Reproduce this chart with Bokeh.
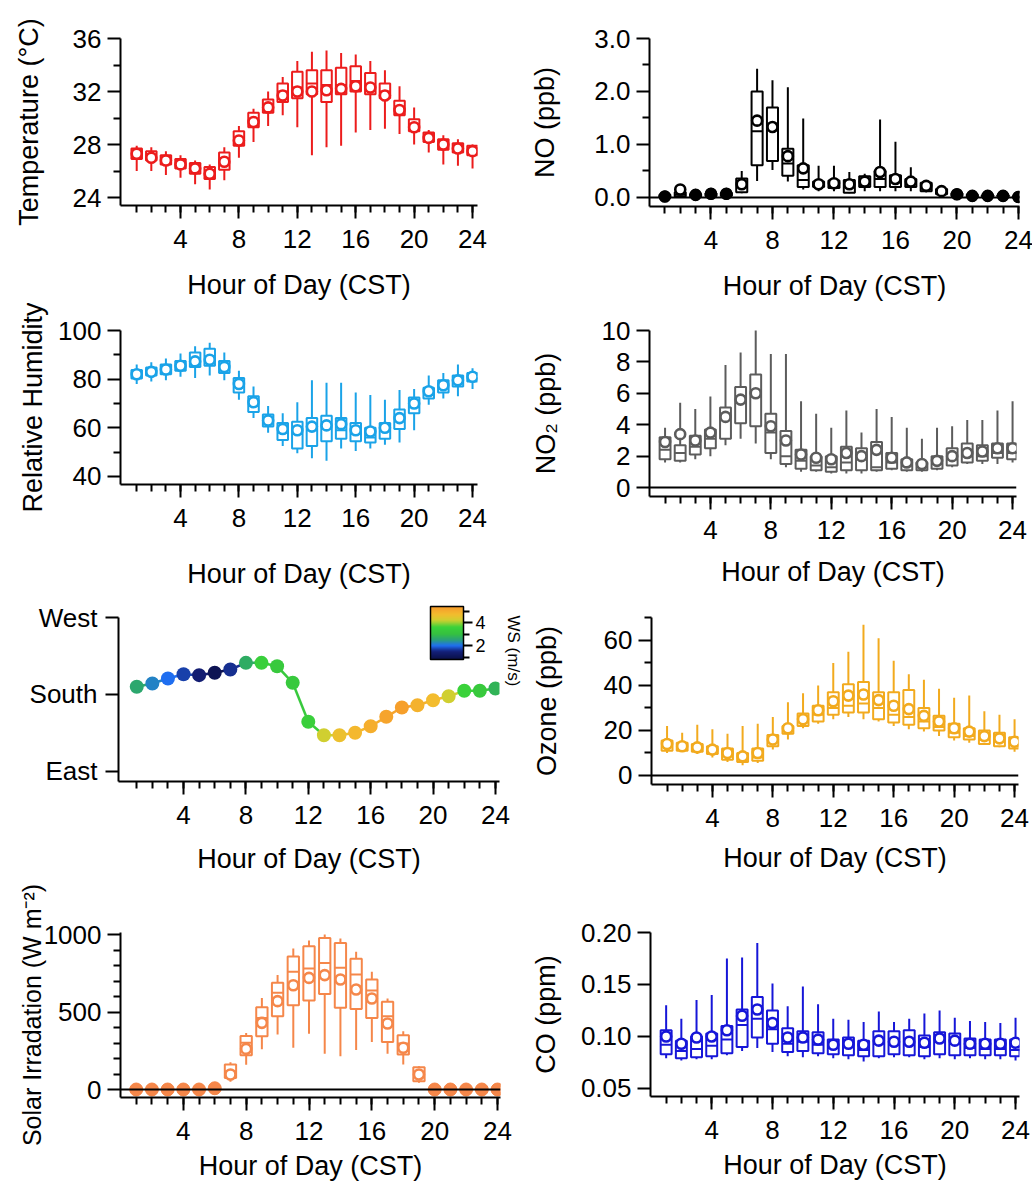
import numpy as np
from bokeh.plotting import figure
from bokeh.models import (FixedTicker, Span, ColumnDataSource, ColorBar, LinearColorMapper,
                          Title, Range1d, NumeralTickFormatter)
from bokeh.layouts import column, row
from bokeh.embed import file_html
from bokeh.resources import INLINE

hours = list(range(1, 25))
x_major = [4, 8, 12, 16, 20, 24]

# Temperature (deg C)
t_low  = [26.0,26.0,25.7,25.5,25.0,24.6,25.3,27.0,28.2,29.4,30.2,29.3,27.2,27.8,27.9,28.9,29.1,29.2,28.8,28.0,27.4,26.5,26.4,26.2]
t_q1   = [26.9,26.8,26.5,26.2,25.8,25.4,26.1,27.9,29.3,30.4,31.2,31.5,31.8,31.2,31.8,32.0,31.8,31.5,30.2,29.0,28.2,27.6,27.4,27.2]
t_med  = [27.2,27.0,26.8,26.5,26.2,25.9,26.6,28.5,29.9,31.0,32.0,32.3,32.6,32.5,32.5,32.8,32.4,32.0,30.8,29.5,28.6,28.0,27.7,27.5]
t_q3   = [27.7,27.5,27.2,26.9,26.6,26.3,27.4,29.0,30.4,31.4,32.6,33.5,33.6,33.6,33.8,33.9,33.4,32.6,31.3,29.9,28.9,28.4,28.1,27.9]
t_high = [27.9,27.8,27.5,27.2,26.8,26.5,27.8,29.4,30.7,32.0,33.1,34.3,35.0,35.1,34.9,34.8,34.3,33.6,32.4,30.8,29.1,28.7,28.4,28.0]
t_mean = [27.3,27.0,26.8,26.5,26.2,25.8,26.7,28.3,29.7,30.8,31.7,32.0,32.0,32.1,32.2,32.4,32.3,31.7,30.6,29.3,28.5,28.0,27.7,27.5]

# NO (ppb)
n_low  = [0.00,0.00,0.00,0.01,0.02,0.08,0.31,0.52,0.30,0.15,0.12,0.12,0.08,0.12,0.12,0.12,0.12,0.10,0.05,0.02,0.01,0.01,0.01,0.00]
n_q1   = [0.00,0.02,0.02,0.03,0.03,0.10,0.61,0.69,0.41,0.20,0.20,0.18,0.09,0.20,0.20,0.20,0.20,0.12,0.06,0.03,0.02,0.02,0.01,0.00]
n_med  = [0.02,0.05,0.04,0.05,0.05,0.20,1.25,1.35,0.64,0.33,0.25,0.25,0.20,0.28,0.35,0.33,0.27,0.20,0.10,0.05,0.03,0.03,0.02,0.01]
n_q3   = [0.05,0.10,0.06,0.08,0.09,0.36,2.00,1.70,0.92,0.61,0.30,0.32,0.33,0.40,0.50,0.42,0.35,0.28,0.16,0.08,0.05,0.04,0.04,0.02]
n_high = [0.08,0.20,0.10,0.12,0.10,0.50,2.43,2.21,2.08,1.49,0.60,0.60,0.48,0.45,1.47,1.05,0.57,0.30,0.20,0.10,0.06,0.05,0.05,0.03]
n_mean = [0.02,0.15,0.05,0.07,0.07,0.25,1.45,1.33,0.78,0.55,0.25,0.27,0.25,0.30,0.48,0.35,0.30,0.22,0.12,0.06,0.03,0.03,0.03,0.01]

# Relative humidity (%)
rh_low  = [78,79,79.5,81,80.5,81.5,79.5,71.5,64,58,52.5,49.5,47.5,46.5,51.5,50.5,51.5,53,54,59,69.5,72,73,76]
rh_q1   = [80.3,81.5,82,83.5,85,85.5,82.5,74.5,66.5,60.5,55,51.5,52.5,54.5,55.5,54.5,54,55.5,59.5,66,72,74.5,77,79]
rh_med  = [82,83,84,85.5,87.5,88.5,85,77.5,69,62.5,58,57.5,59,60,59,57.5,56,59,63,68.5,74,77,79,80.5]
rh_q3   = [83.8,84.8,86,87.5,91,92.5,87.5,80.5,73,65.5,62,62.5,64,65,64,62,60,62,67.5,72.5,76.5,79.5,81.5,82.5]
rh_high = [86,87,88.5,90.5,93.5,95,91,83.5,77,69,66,70.5,79.5,78.5,78.5,74.5,73.5,71.5,75.5,76,81.5,82.5,86,84.5]
rh_mean = [82,83,84,85.5,87.3,88,85,78,70.5,63,59.5,59,60.5,61,61.5,59,58.5,60,64,70,75,77.5,79.5,81]

# NO2 (ppb)
n2_low  = [1.6,1.6,1.8,2.0,2.7,3.1,2.8,1.8,1.3,1.0,1.0,0.9,0.9,0.9,1.0,1.1,1.0,1.0,1.1,1.3,1.5,1.5,1.5,1.6]
n2_q1   = [1.8,1.7,2.1,2.5,3.1,4.1,3.9,2.2,1.5,1.2,1.1,1.0,1.1,1.1,1.1,1.2,1.1,1.1,1.2,1.4,1.6,1.7,1.9,1.8]
n2_med  = [2.4,2.2,2.6,3.1,4.3,5.4,5.8,3.5,2.0,1.7,1.4,1.3,1.6,1.8,1.3,1.6,1.4,1.3,1.5,1.8,2.0,2.0,2.2,2.2]
n2_q3   = [3.2,2.7,3.3,3.7,5.1,6.4,7.2,4.7,3.6,2.4,2.0,2.0,2.6,2.5,2.9,2.2,1.8,1.6,2.0,2.5,2.8,2.7,2.8,2.8]
n2_high = [3.8,5.4,5.0,5.8,7.8,8.6,10.2,8.5,8.5,5.5,4.7,3.8,4.9,3.5,5.0,4.5,3.8,3.1,3.8,3.9,4.3,4.3,4.9,5.5]
n2_mean = [2.9,3.4,3.0,3.5,4.5,5.6,6.0,3.9,3.0,2.1,1.9,1.8,2.2,2.0,2.4,1.9,1.6,1.5,1.7,2.0,2.2,2.3,2.5,2.5]

# Wind direction (deg) and wind speed (m/s)
wd = [189.0,192.9,198.7,203.7,202.6,205.4,209.2,217.0,217.0,213.1,193.7,148.1,
      132.4,132.4,135.2,142.9,153.9,164.8,167.5,173.3,178.0,184.3,184.3,187.0]
ws = [2.6,2.2,2.0,1.7,1.4,1.0,1.6,2.7,3.5,3.3,3.3,3.5,
      4.2,4.6,4.8,5.0,5.2,5.3,4.9,4.7,4.2,3.6,3.3,2.8]
wd_ticks = [90, 180, 270]
wd_names = ["East", "South", "West"]

# Ozone (ppb)
o_low  = [10,10.5,9.5,8,6,4.5,5.5,11.5,16,21,23,25,26,25,24,22,20.5,19.5,17.5,15.5,14.5,13.5,12.5,10.5]
o_q1   = [11,11,10.5,9.5,7,6,6.5,13,18.5,22,24,27,28,28,25,23.5,22.5,21,20,17,16,14,13,12]
o_med  = [13,13,12,11,9.5,8,8,15,20,24,27,30,31,32,30,27,26,24,21.5,19,17.5,16,15.5,14]
o_q3   = [15.5,14.5,14,13,12,10,12,18,22,27.5,31,37,40.5,41.5,37,37,38,30,26.5,23,21,20,19,17]
o_high = [22,19,22.5,20.5,18.5,22,23,26,32.5,36.5,40,50,55,67,61,51,45,42.5,38.5,34.5,35.5,28.5,27,25]
o_mean = [14,13,12.5,11.5,10,8.5,10,16,21,25,29,33,35.5,36,33.5,31,29.5,26.5,24,21,19.5,17.5,16.5,15]

# Solar irradiation (W m-2)
s_low  = [0,0,0,0,0,0,50,160,260,355,270,360,230,215,255,307,230,161,43,0,0,0,0,0]
s_q1   = [0,0,0,0,0,0,75,221,344,473,544,574,617,527,520,462,307,226,54,0,0,0,0,0]
s_med  = [0,0,0,0,0,0,118,301,462,624,759,781,817,785,742,639,473,297,110,0,0,0,0,0]
s_q3   = [0,0,0,0,0,0,161,345,531,688,858,925,978,946,843,710,566,350,144,0,0,0,0,0]
s_high = [0,0,0,0,0,0,176,365,591,738,910,961,1000,974,888,759,587,376,150,0,0,0,0,0]
s_mean = [0,0,0,0,0,8,97,262,430,570,673,720,738,710,645,587,426,269,97,0,0,0,0,0]

# CO (ppm)
c_low  = [0.079,0.077,0.078,0.078,0.082,0.086,0.089,0.085,0.081,0.080,0.081,0.079,0.078,0.076,0.079,0.080,0.080,0.078,0.079,0.078,0.079,0.078,0.078,0.077]
c_q1   = [0.083,0.079,0.080,0.081,0.084,0.090,0.099,0.093,0.085,0.086,0.084,0.083,0.082,0.081,0.081,0.083,0.082,0.081,0.083,0.082,0.082,0.082,0.082,0.081]
c_med  = [0.092,0.086,0.088,0.091,0.097,0.111,0.117,0.107,0.093,0.095,0.092,0.089,0.091,0.087,0.093,0.092,0.093,0.090,0.096,0.093,0.089,0.088,0.088,0.087]
c_q3   = [0.106,0.096,0.100,0.103,0.110,0.126,0.138,0.125,0.108,0.105,0.104,0.097,0.099,0.096,0.105,0.105,0.106,0.101,0.104,0.103,0.098,0.097,0.097,0.097]
c_high = [0.130,0.117,0.135,0.140,0.175,0.176,0.190,0.151,0.129,0.148,0.131,0.117,0.116,0.114,0.124,0.114,0.117,0.122,0.125,0.118,0.115,0.114,0.113,0.118]
c_mean = [0.100,0.093,0.099,0.100,0.106,0.120,0.126,0.113,0.099,0.099,0.097,0.092,0.093,0.092,0.096,0.095,0.095,0.094,0.098,0.096,0.093,0.093,0.093,0.094]

FONT = "Liberation Sans"
TICK_FS = "26px"
TITLE_FS = "27px"


def make_fig(fw, fh, bl, bt, br, bb, xr, yr, x_title_standoff):
    p = figure(frame_width=fw, frame_height=fh, min_border_left=bl, min_border_top=bt,
               min_border_right=br, min_border_bottom=bb,
               x_range=Range1d(*xr), y_range=Range1d(*yr),
               output_backend="svg", toolbar_location=None)
    p.xgrid.visible = False
    p.ygrid.visible = False
    p.outline_line_color = None
    p.background_fill_color = "white"
    p.border_fill_color = "white"
    for ax in (p.xaxis[0], p.yaxis[0]):
        ax.axis_line_width = 2
        ax.axis_line_color = "black"
        ax.major_tick_line_width = 2
        ax.minor_tick_line_width = 2
        ax.major_tick_line_color = "black"
        ax.minor_tick_line_color = "black"
        ax.major_tick_out = 13
        ax.major_tick_in = 0
        ax.minor_tick_out = 7
        ax.minor_tick_in = 0
        ax.major_label_text_font = FONT
        ax.major_label_text_font_size = TICK_FS
        ax.major_label_text_color = "black"
        ax.axis_label_text_font = FONT
        ax.axis_label_text_font_size = TITLE_FS
        ax.axis_label_text_font_style = "normal"
        ax.axis_label_text_color = "black"
    xa = p.xaxis[0]
    xa.ticker = FixedTicker(ticks=x_major, minor_ticks=hours)
    xa.axis_label = "Hour of Day (CST)"
    xa.major_label_standoff = 11
    xa.axis_label_standoff = x_title_standoff
    p.yaxis[0].major_label_standoff = 6
    return p


def add_boxes(p, low, q1, med, q3, high, mean, color, yspan):
    src = ColumnDataSource(dict(h=hours, low=low, q1=q1, med=med, q3=q3, high=high, mean=mean))
    p.segment(x0="h", y0="low", x1="h", y1="high", source=src, line_color=color, line_width=2)
    p.vbar(x="h", bottom="q1", top="q3", width=0.72, source=src,
           fill_color="white", line_color=color, line_width=2)
    p.scatter(x="h", y="med", marker="dash", size=11, source=src, line_color=color, line_width=2)
    p.scatter(x="h", y="mean", marker="circle", size=10, source=src,
              fill_color="white", line_color=color, line_width=2.6)
    # collapsed boxes read as solid dots
    flat = [i for i in range(len(hours)) if (q3[i] - q1[i]) <= 0.02 * yspan]
    if flat:
        fsrc = ColumnDataSource(dict(h=[hours[i] for i in flat], mean=[mean[i] for i in flat]))
        size = 13 if max(q3[i] for i in flat) == 0 else 11
        p.scatter(x="h", y="mean", marker="circle", size=size, source=fsrc,
                  fill_color=color, line_color=color)


def zero_line(p):
    p.add_layout(Span(location=0, dimension="width", line_color="black", line_width=2))


def y_axis(p, label, ticks, minor, standoff, fmt=None):
    ya = p.yaxis[0]
    ya.ticker = FixedTicker(ticks=ticks, minor_ticks=minor)
    ya.axis_label = label
    ya.axis_label_standoff = standoff
    if fmt:
        ya.formatter = NumeralTickFormatter(format=fmt)


LW = 527   # left column width
RW = 505   # right column width

# ---- Row 1 (height 300)
p1 = make_fig(357, 167, 120, 38, LW - 120 - 357, 95, (-0.11, 24.34), (23.4, 36), 19)
add_boxes(p1, t_low, t_q1, t_med, t_q3, t_high, t_mean, "#ec1c1c", 12.6)
y_axis(p1, "Temperature (°C)", [24, 28, 32, 36], [26, 30, 34], 26)

p2 = make_fig(370, 168, 117, 38, RW - 117 - 370, 94, (0, 24.07), (-0.17, 3.0), 19)
zero_line(p2)
add_boxes(p2, n_low, n_q1, n_med, n_q3, n_high, n_mean, "#000000", 3.17)
y_axis(p2, "NO (ppb)", [0, 1, 2, 3], [0.5, 1.5, 2.5], 31, "0.0")

# ---- Row 2 (height 290)
p3 = make_fig(357, 154, 120, 27, LW - 120 - 357, 109, (-0.11, 24.34), (36.7, 100), 29)
add_boxes(p3, rh_low, rh_q1, rh_med, rh_q3, rh_high, rh_mean, "#1aa3e8", 63.3)
y_axis(p3, "Relative Humidity", [40, 60, 80, 100], [50, 70, 90], 7)

p4 = make_fig(367, 166, 117, 26, RW - 117 - 367, 98, (-0.03, 24.26), (-0.57, 10), 15)
zero_line(p4)
add_boxes(p4, n2_low, n2_q1, n2_med, n2_q3, n2_high, n2_mean, "#5c5c5c", 10.57)
y_axis(p4, "NO₂ (ppb)", [0, 2, 4, 6, 8, 10], [], 38)

# ---- Row 3 (height 280): wind direction coloured by wind speed
anchor_v = [0.8, 1.5, 2.0, 2.5, 3.0, 3.6, 4.2, 4.7, 5.4]
anchor_c = ["#0a0f45", "#14207a", "#1f6ff2", "#2aa07a", "#35c040", "#3ad23a",
            "#cfcf30", "#f3bd2e", "#f79a2b"]


def hex2rgb(h):
    return [int(h[i:i + 2], 16) for i in (1, 3, 5)]


rgb = np.array([hex2rgb(c) for c in anchor_c], dtype=float)
vv = np.linspace(anchor_v[0], anchor_v[-1], 256)
palette = []
for v in vv:
    r = np.interp(v, anchor_v, rgb[:, 0])
    g = np.interp(v, anchor_v, rgb[:, 1])
    b = np.interp(v, anchor_v, rgb[:, 2])
    palette.append("#%02x%02x%02x" % (int(round(r)), int(round(g)), int(round(b))))

mapper = LinearColorMapper(palette=palette, low=anchor_v[0], high=anchor_v[-1])

p5 = make_fig(381, 164, 118, 24, LW - 118 - 381, 92, (-0.17, 24.26), (78.3, 270), 17)
seg = ColumnDataSource(dict(x0=hours[:-1], y0=wd[:-1], x1=hours[1:], y1=wd[1:], ws=ws[:-1]))
p5.segment(x0="x0", y0="y0", x1="x1", y1="y1", source=seg,
           line_color={"field": "ws", "transform": mapper}, line_width=2.5)
pts = ColumnDataSource(dict(h=hours, wd=wd, ws=ws))
p5.scatter(x="h", y="wd", size=14, source=pts,
           fill_color={"field": "ws", "transform": mapper}, line_color=None)
ya5 = p5.yaxis[0]
ya5.ticker = FixedTicker(ticks=wd_ticks, minor_ticks=[])
ya5.major_label_overrides = {float(t): n for t, n in zip(wd_ticks, wd_names)}
ya5.major_label_standoff = 8

cb = ColorBar(color_mapper=mapper, location=(312, 122), width=33, height=53,
              padding=0, margin=0,
              ticker=FixedTicker(ticks=[2, 4], minor_ticks=[1, 3, 5]),
              major_tick_in=0, major_tick_out=9, minor_tick_in=0, minor_tick_out=6,
              major_tick_line_color="black", major_tick_line_width=2,
              minor_tick_line_color="black", minor_tick_line_width=2,
              bar_line_color="black", bar_line_width=1.5,
              major_label_text_font=FONT, major_label_text_font_size="18px",
              major_label_text_color="black",
              label_standoff=3, background_fill_color=None, border_line_color=None)
p5.add_layout(cb)
p5.add_layout(Title(text="WS (m/s)", align="left", offset=-2, standoff=8,
                    text_font=FONT, text_font_size="17px", text_font_style="normal",
                    text_color="black"), "right")

p6 = make_fig(367, 167, 117, 20, RW - 117 - 367, 93, (-0.03, 24.26), (-4, 70.2), 13)
zero_line(p6)
add_boxes(p6, o_low, o_q1, o_med, o_q3, o_high, o_mean, "#f2aa1e", 74.2)
y_axis(p6, "Ozone (ppb)", [0, 20, 40, 60], [10, 30, 50, 70], 39)

# ---- Row 4 (height 313)
p7 = make_fig(380, 165, 120, 55, LW - 120 - 380, 93, (0, 24.19), (-51.6, 1013), 8)
zero_line(p7)
add_boxes(p7, s_low, s_q1, s_med, s_q3, s_high, s_mean, "#f5874a", 1064.6)
y_axis(p7, "Solar Irradation (W m⁻²)", [0, 500, 1000],
       [100, 200, 300, 400, 600, 700, 800, 900], -5)
p7.yaxis[0].axis_label_text_font_size = "25px"

p8 = make_fig(369, 164, 117, 56, RW - 117 - 369, 93, (-0.03, 24.26), (0.0423, 0.20), 8)
add_boxes(p8, c_low, c_q1, c_med, c_q3, c_high, c_mean, "#1616d8", 0.158)
y_axis(p8, "CO (ppm)", [0.05, 0.10, 0.15, 0.20], [], 17, "0.00")

layout = column(row(p1, p2), row(p3, p4), row(p5, p6), row(p7, p8))
open("out.html", "w").write(file_html(layout, INLINE))
